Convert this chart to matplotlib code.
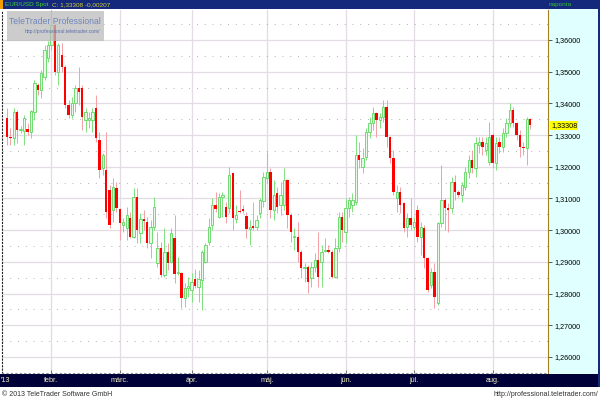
import numpy as np
import pandas as pd
import matplotlib
matplotlib.use("Agg")
import matplotlib.pyplot as plt
import matplotlib.ticker as mticker
from matplotlib.patches import Rectangle
from matplotlib.transforms import blended_transform_factory

plt.rcParams["font.family"] = ["Liberation Sans", "DejaVu Sans"]

# EUR/USD spot, daily candles (weekdays)
dates = pd.bdate_range("2013-01-15", "2013-08-16")

opens = [
    1.3354, 1.3294, 1.3291, 1.3373, 1.3316, 1.3313, 1.3319, 1.3310, 1.3373, 1.3458,
    1.3442, 1.3483, 1.3543, 1.3584, 1.3647, 1.3499, 1.3553, 1.3515, 1.3395, 1.3363,
    1.3401, 1.3449, 1.3449, 1.3348, 1.3348, 1.3348, 1.3385, 1.3285, 1.3196, 1.3190,
    1.3127, 1.3064, 1.3133, 1.3067, 1.3016, 1.3007, 1.3038, 1.2979, 1.3105, 1.2991,
    1.3035, 1.3026, 1.2960, 1.3010, 1.2897, 1.2944, 1.2859, 1.2931, 1.2900, 1.2975,
    1.2865, 1.2865, 1.2786, 1.2818, 1.2811, 1.2846, 1.2821, 1.2843, 1.2900, 1.2963,
    1.3016, 1.3079, 1.3042, 1.3105, 1.3073, 1.3070, 1.3181, 1.3035, 1.3060, 1.3067,
    1.3045, 1.3004, 1.3013, 1.3010, 1.3054, 1.3092, 1.3165, 1.3184, 1.3064, 1.3117,
    1.3079, 1.3079, 1.3158, 1.3048, 1.2979, 1.2979, 1.2931, 1.2881, 1.2884, 1.2849,
    1.2884, 1.2906, 1.2900, 1.2935, 1.2938, 1.2931, 1.2852, 1.2944, 1.3042, 1.2994,
    1.3070, 1.3079, 1.3089, 1.3237, 1.3199, 1.3231, 1.3310, 1.3338, 1.3370, 1.3348,
    1.3357, 1.3389, 1.3294, 1.3228, 1.3102, 1.3121, 1.3086, 1.3010, 1.3038, 1.3010,
    1.3064, 1.2979, 1.3007, 1.2912, 1.2827, 1.2868, 1.2770, 1.3023, 1.3095, 1.3070,
    1.3070, 1.3152, 1.3121, 1.3111, 1.3136, 1.3184, 1.3221, 1.3196, 1.3269, 1.3278,
    1.3253, 1.3215, 1.3300, 1.3212, 1.3278, 1.3262, 1.3307, 1.3338, 1.3379, 1.3338,
    1.3300, 1.3262, 1.3259, 1.3350,
]
highs = [
    1.3385, 1.3322, 1.3385, 1.3379, 1.3329, 1.3363, 1.3338, 1.3379, 1.3474, 1.3464,
    1.3505, 1.3584, 1.3597, 1.3710, 1.3654, 1.3591, 1.3591, 1.3521, 1.3411, 1.3420,
    1.3458, 1.3515, 1.3458, 1.3385, 1.3373, 1.3385, 1.3427, 1.3310, 1.3243, 1.3310,
    1.3143, 1.3165, 1.3152, 1.3070, 1.3038, 1.3073, 1.3057, 1.3133, 1.3133, 1.3054,
    1.3064, 1.3042, 1.3032, 1.3105, 1.2994, 1.2963, 1.3007, 1.2960, 1.3007, 1.3048,
    1.2915, 1.2868, 1.2833, 1.2852, 1.2865, 1.2878, 1.2874, 1.2938, 1.2960, 1.3038,
    1.3102, 1.3121, 1.3117, 1.3121, 1.3089, 1.3199, 1.3184, 1.3079, 1.3127, 1.3079,
    1.3057, 1.3032, 1.3089, 1.3048, 1.3102, 1.3184, 1.3247, 1.3196, 1.3158, 1.3136,
    1.3152, 1.3196, 1.3162, 1.3054, 1.3007, 1.3026, 1.2938, 1.2897, 1.2890, 1.2900,
    1.2928, 1.2994, 1.2953, 1.2975, 1.2953, 1.2938, 1.2975, 1.3057, 1.3057, 1.3102,
    1.3105, 1.3117, 1.3300, 1.3278, 1.3259, 1.3322, 1.3357, 1.3389, 1.3373, 1.3370,
    1.3411, 1.3411, 1.3297, 1.3253, 1.3143, 1.3136, 1.3089, 1.3054, 1.3102, 1.3042,
    1.3079, 1.3026, 1.3016, 1.2915, 1.2881, 1.2897, 1.3026, 1.3206, 1.3102, 1.3086,
    1.3168, 1.3174, 1.3127, 1.3152, 1.3199, 1.3237, 1.3253, 1.3294, 1.3294, 1.3294,
    1.3294, 1.3341, 1.3307, 1.3294, 1.3294, 1.3322, 1.3354, 1.3401, 1.3389, 1.3341,
    1.3316, 1.3278, 1.3357, 1.3354,
]
lows = [
    1.3269, 1.3269, 1.3269, 1.3275, 1.3307, 1.3269, 1.3300, 1.3291, 1.3348, 1.3427,
    1.3417, 1.3474, 1.3530, 1.3568, 1.3489, 1.3458, 1.3499, 1.3385, 1.3354, 1.3354,
    1.3373, 1.3395, 1.3316, 1.3310, 1.3322, 1.3310, 1.3278, 1.3165, 1.3174, 1.3038,
    1.3007, 1.3026, 1.3057, 1.2969, 1.2994, 1.2969, 1.2975, 1.2975, 1.2960, 1.2960,
    1.3001, 1.2944, 1.2912, 1.3001, 1.2884, 1.2852, 1.2852, 1.2874, 1.2897, 1.2833,
    1.2859, 1.2755, 1.2758, 1.2789, 1.2773, 1.2818, 1.2773, 1.2748, 1.2897, 1.2953,
    1.3001, 1.3057, 1.3038, 1.3042, 1.3023, 1.3054, 1.3001, 1.3023, 1.3054, 1.3054,
    1.2975, 1.2953, 1.3001, 1.3001, 1.3038, 1.3073, 1.3149, 1.3038, 1.3032, 1.3054,
    1.3048, 1.3064, 1.3007, 1.2963, 1.2938, 1.2900, 1.2849, 1.2837, 1.2802, 1.2821,
    1.2868, 1.2821, 1.2821, 1.2931, 1.2928, 1.2849, 1.2849, 1.2931, 1.2963, 1.2960,
    1.3042, 1.3057, 1.3079, 1.3196, 1.3181, 1.3221, 1.3291, 1.3316, 1.3294, 1.3322,
    1.3341, 1.3262, 1.3212, 1.3111, 1.3057, 1.3054, 1.2994, 1.2979, 1.3001, 1.3001,
    1.2963, 1.2922, 1.2881, 1.2805, 1.2818, 1.2755, 1.2764, 1.3010, 1.3001, 1.2994,
    1.3054, 1.3095, 1.3105, 1.3089, 1.3127, 1.3165, 1.3180, 1.3168, 1.3243, 1.3237,
    1.3237, 1.3206, 1.3196, 1.3190, 1.3243, 1.3247, 1.3294, 1.3326, 1.3326, 1.3285,
    1.3231, 1.3237, 1.3206, 1.3318,
]
closes = [
    1.3294, 1.3291, 1.3373, 1.3316, 1.3319, 1.3354, 1.3310, 1.3376, 1.3464, 1.3442,
    1.3496, 1.3568, 1.3584, 1.3647, 1.3499, 1.3584, 1.3515, 1.3395, 1.3363, 1.3401,
    1.3449, 1.3436, 1.3357, 1.3373, 1.3354, 1.3373, 1.3291, 1.3190, 1.3237, 1.3057,
    1.3016, 1.3136, 1.3070, 1.3023, 1.3026, 1.3048, 1.2979, 1.3105, 1.3001, 1.3035,
    1.3029, 1.2960, 1.3010, 1.3073, 1.2944, 1.2859, 1.2931, 1.2897, 1.2991, 1.2862,
    1.2868, 1.2786, 1.2818, 1.2824, 1.2837, 1.2824, 1.2846, 1.2931, 1.2953, 1.3010,
    1.3079, 1.3067, 1.3105, 1.3111, 1.3042, 1.3174, 1.3038, 1.3048, 1.3057, 1.3060,
    1.3004, 1.3010, 1.3007, 1.3032, 1.3095, 1.3168, 1.3184, 1.3064, 1.3111, 1.3073,
    1.3111, 1.3158, 1.3048, 1.2994, 1.2982, 1.2931, 1.2881, 1.2884, 1.2837, 1.2884,
    1.2906, 1.2852, 1.2931, 1.2938, 1.2931, 1.2852, 1.2944, 1.3042, 1.3001, 1.3070,
    1.3095, 1.3095, 1.3237, 1.3221, 1.3228, 1.3310, 1.3338, 1.3370, 1.3348, 1.3357,
    1.3389, 1.3294, 1.3228, 1.3121, 1.3121, 1.3079, 1.3007, 1.3038, 1.3016, 1.3026,
    1.2979, 1.3010, 1.2912, 1.2811, 1.2868, 1.2789, 1.3023, 1.3095, 1.3070, 1.3064,
    1.3152, 1.3121, 1.3111, 1.3143, 1.3184, 1.3221, 1.3196, 1.3275, 1.3278, 1.3262,
    1.3275, 1.3294, 1.3212, 1.3275, 1.3262, 1.3307, 1.3338, 1.3379, 1.3338, 1.3300,
    1.3262, 1.3259, 1.3352, 1.33308,
]
change = -0.00207

month_labels = ["febr.", "márc.", "ápr.", "máj.", "jún.", "júl.", "aug."]
price_ticks = [1.26, 1.27, 1.28, 1.29, 1.30, 1.31, 1.32, 1.33, 1.34, 1.35, 1.36]

W, H = 600, 400
NAVY = "#000038"
HEADER = "#14287c"
CYAN = "#e0ffff"


def px(x0, y0, x1, y1):
    """Pixel box (top-left origin) -> figure fraction [l, b, w, h]."""
    return [x0 / W, 1 - y1 / H, (x1 - x0) / W, (y1 - y0) / H]


def fmt(v):
    return f"{v:.5f}".replace(".", ",")


def fig_rect(x0, y0, x1, y1, color, z=-1, **kw):
    l, b, w, hh = px(x0, y0, x1, y1)
    fig.patches.append(Rectangle((l, b), w, hh, transform=fig.transFigure,
                                 fc=color, ec="none", zorder=z, **kw))


fig = plt.figure(figsize=(W / 100, H / 100), dpi=100)
fig.patch.set_facecolor("white")

# panels behind the axes
fig_rect(548, 9, 600, 374, CYAN)
fig_rect(0, 0, 600, 9, HEADER)
fig_rect(0, 0, 3, 9, "#f0a000", z=-0.5)
fig_rect(0, 374, 600, 387, NAVY)
fig_rect(598, 9, 600, 387, HEADER, z=-0.5)

ax = fig.add_axes(px(2, 10, 548, 373))
ax.set_facecolor("white")

x = np.arange(len(closes))
o, h, l, c = (np.array(v) for v in (opens, highs, lows, closes))
up = c >= o
dn = ~up

ax.vlines(x[up], l[up], h[up], color="#80e080", lw=0.7, zorder=3)
ax.vlines(x[dn], l[dn], h[dn], color="#f4a0a8", lw=0.7, zorder=3)
ax.bar(x[up], np.maximum(c[up] - o[up], 0.00012), bottom=o[up], width=0.7,
       color="#e6fae6", edgecolor="#5cd65c", lw=0.6, zorder=4)
ax.bar(x[dn], np.maximum(o[dn] - c[dn], 0.00025), bottom=c[dn], width=0.7,
       color="#ff0000", lw=0, zorder=4)

ax.set_xlim((2 - 7) / 3.42, (548 - 7) / 3.42)
ax.set_ylim(1.36 - 333 / 3170, 1.36 + 30 / 3170)

# month boundaries
month_starts = [i for i in range(1, len(dates)) if dates[i].month != dates[i - 1].month]
for i in month_starts:
    ax.axvline(i, color="#e4dce4", lw=0.9, zorder=1)

ax.yaxis.set_major_locator(mticker.FixedLocator(price_ticks))
ax.yaxis.set_minor_locator(mticker.MultipleLocator(0.005))
ax.yaxis.set_major_formatter(mticker.FuncFormatter(lambda v, _: fmt(v)))
ax.yaxis.tick_right()
ax.grid(axis="y", which="major", color="#e4dce4", lw=0.9, zorder=1)
ax.grid(axis="y", which="minor", color="#b0b0b0", lw=0.7,
        linestyle=(0, (1, 7)), zorder=1)
ax.tick_params(axis="y", which="major", length=3, width=0.6, color="#404040",
               labelsize=5.2, pad=1.5, labelcolor="black")
ax.tick_params(axis="y", which="minor", length=0)
ax.set_xticks(month_starts)
ax.set_xticklabels([])
ax.tick_params(axis="x", length=2, width=0.6, color="#606060", direction="in")

ax.spines["top"].set_visible(False)
ax.spines["right"].set_color("#a08020")
ax.spines["right"].set_linestyle((0, (1, 1)))
ax.spines["left"].set_color("#202020")
ax.spines["left"].set_linestyle((0, (1, 2)))
ax.spines["bottom"].set_color("#909090")
ax.spines["bottom"].set_linestyle((0, (1, 3)))

# last price marker
ax.text(1.006, closes[-1], fmt(closes[-1]), transform=ax.get_yaxis_transform(),
        ha="left", va="center", fontsize=5.2, color="black", zorder=6,
        bbox=dict(boxstyle="square,pad=0.12", fc="#ffff00", ec="none"))

# month labels in the bottom bar
tr = blended_transform_factory(ax.transData, fig.transFigure)
ybar = 1 - 381 / H
fig.text(1 / W, ybar, "'13", fontsize=5.2, color="#f0f0c0", va="center", ha="left")
for i, lab in zip(month_starts, month_labels):
    fig.text(i, ybar, lab, transform=tr, fontsize=5.2, color="#f0f0c0",
             va="center", ha="center")

# header
fig.text(5 / W, 1 - 4.6 / H, "EUR/USD Spot", fontsize=4.6, color="#44d030",
         va="center", ha="left")
fig.text(52 / W, 1 - 4.6 / H, f"C: {fmt(closes[-1])} {fmt(change)}",
         fontsize=4.6, color="#d0d030", va="center", ha="left")
fig.text(549 / W, 1 - 4.6 / H, "naponta", fontsize=4.6, color="#30c030",
         va="center", ha="left")

# watermark
fig_rect(7, 11, 104, 41, "#bcbcbc", z=5, alpha=0.75)
fig.text(55 / W, 1 - 21 / H, "TeleTrader Professional", fontsize=6.2,
         color="#6f86bd", ha="center", va="center", zorder=6)
fig.text(62 / W, 1 - 32 / H, "http://professional.teletrader.com/", fontsize=3.6,
         color="#5a6fa8", ha="center", va="center", zorder=6)

# footer
fig.text(2 / W, 1 - 394 / H, "© 2013 TeleTrader Software GmbH", fontsize=5,
         color="#303030", ha="left", va="center")
fig.text(598 / W, 1 - 394 / H, "http://professional.teletrader.com/", fontsize=5,
         color="#303030", ha="right", va="center")

fig.savefig("out.png", dpi=100)
